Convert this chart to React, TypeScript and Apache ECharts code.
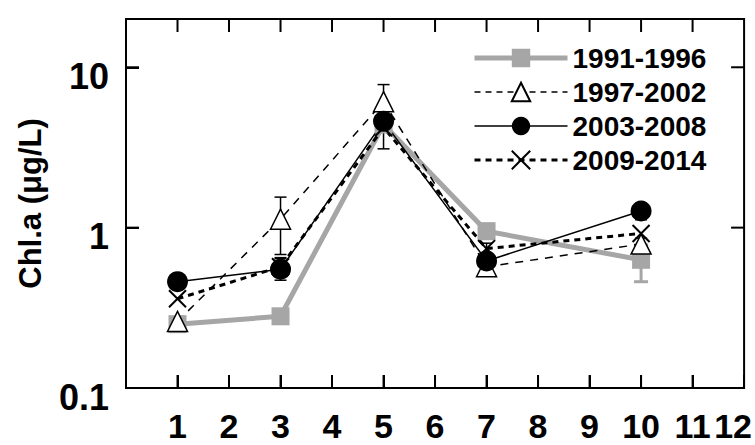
import React, { useEffect, useRef } from "react";
import * as echarts from "echarts";

const months = [1, 3, 5, 7, 10];
const xTickValues = [1, 2, 3, 4, 5, 6, 7, 8, 9, 10, 11, 12];
const yTickLabels = [0.1, 1, 10];
const seriesNames = ["1991-1996", "1997-2002", "2003-2008", "2009-2014"];

const s1991 = [0.25, 0.28, 4.4, 0.95, 0.63];
const s1997 = [0.26, 1.13, 6.1, 0.57, 0.79];
const s2003 = [0.46, 0.55, 4.6, 0.62, 1.27];
const s2009 = [0.36, 0.57, 4.2, 0.74, 0.92];

// error bars: [month, low, high]
const err1991 = [[7, 0.86, 1.05], [10, 0.46, 0.78]];
const err1997 = [[3, 0.68, 1.55], [5, 4.9, 7.8], [7, 0.52, 0.62], [10, 0.72, 0.86]];
const err2003 = [[1, 0.42, 0.5], [3, 0.47, 0.65], [5, 3.1, 5.4], [7, 0.56, 0.68], [10, 1.12, 1.42]];
const err2009 = [[3, 0.5, 0.64], [7, 0.68, 0.8]];

const X_MIN = 0;
const X_MAX = 12;
const Y_MIN = 0.1;
const Y_MAX = 20;

const FONT = "'Liberation Sans', Arial, sans-serif";
const GRAY = "#a6a6a6";
const TICK_LEN = 13;

function pairs(vals: number[]) {
  return months.map((m, i) => [m, vals[i]]);
}

function errSeries(data: number[][], color: string, width: number, capW: number) {
  return {
    type: "custom",
    xAxisIndex: 0,
    yAxisIndex: 0,
    silent: true,
    data,
    encode: { x: 0, y: [1, 2] },
    renderItem: (params: any, api: any) => {
      const x = api.value(0);
      const lo = api.value(1);
      const hi = api.value(2);
      const p1 = api.coord([x, hi]);
      const p2 = api.coord([x, lo]);
      const h = capW / 2;
      const st = { stroke: color, lineWidth: width };
      return {
        type: "group",
        children: [
          { type: "line", shape: { x1: p1[0], y1: p1[1], x2: p2[0], y2: p2[1] }, style: st },
          { type: "line", shape: { x1: p1[0] - h, y1: p1[1], x2: p1[0] + h, y2: p1[1] }, style: st },
          { type: "line", shape: { x1: p2[0] - h, y1: p2[1], x2: p2[0] + h, y2: p2[1] }, style: st },
        ],
      };
    },
  };
}

// inward tick marks on all four sides: [xValue, yValue, dx, dy]
const tickData: number[][] = [];
xTickValues
  .filter((v) => v > X_MIN && v < X_MAX)
  .forEach((v) => {
    tickData.push([v, Y_MIN, 0, -1]);
    tickData.push([v, Y_MAX, 0, 1]);
  });
yTickLabels
  .filter((v) => v > Y_MIN && v < Y_MAX)
  .forEach((v) => {
    tickData.push([X_MIN, v, 1, 0]);
    tickData.push([X_MAX, v, -1, 0]);
  });

const tickSeries = {
  type: "custom",
  silent: true,
  clip: false,
  z: 10,
  data: tickData,
  encode: { x: 0, y: 1 },
  renderItem: (params: any, api: any) => {
    const p = api.coord([api.value(0), api.value(1)]);
    const dx = api.value(2);
    const dy = api.value(3);
    return {
      type: "line",
      shape: { x1: p[0], y1: p[1], x2: p[0] + dx * TICK_LEN, y2: p[1] + dy * TICK_LEN },
      style: { stroke: "#000", lineWidth: 2 },
    };
  },
};

export default function App() {
  const ref = useRef<HTMLDivElement>(null);
  useEffect(() => {
    const chart = echarts.init(ref.current!, null, { renderer: "svg" });
    const labelFont = { fontSize: 34, fontWeight: "bold", fontFamily: FONT, color: "#000" };
    const option: any = {
      animation: false,
      backgroundColor: "#fff",
      grid: {
        left: 126,
        right: 9,
        top: 19,
        bottom: 57,
        containLabel: false,
        show: true,
        borderColor: "#000",
        borderWidth: 2,
      },
      legend: {
        orient: "vertical",
        left: 467,
        top: 39,
        data: [
          { name: seriesNames[0], lineStyle: { width: 5, color: GRAY } },
          { name: seriesNames[1], lineStyle: { width: 1.5, color: "#000", type: [6, 5] } },
          { name: seriesNames[2], lineStyle: { width: 1.5, color: "#000" } },
          { name: seriesNames[3], lineStyle: { width: 3, color: "#000", type: [6, 5] } },
        ],
        itemWidth: 93,
        itemHeight: 23,
        itemGap: 6,
        textStyle: { fontSize: 28, fontWeight: "bold", fontFamily: FONT, color: "#000" },
      },
      xAxis: {
        type: "value",
        min: X_MIN,
        max: X_MAX,
        interval: 1,
        position: "bottom",
        axisLine: { show: true, onZero: false, lineStyle: { color: "#000", width: 2 } },
        axisTick: { show: true, inside: true, length: TICK_LEN, lineStyle: { color: "#000", width: 2 } },
        splitLine: { show: false },
        axisLabel: {
          margin: 21,
          ...labelFont,
          showMaxLabel: true,
          hideOverlap: false,
          formatter: (v: number) => (v === 12 ? "{r|12}" : xTickValues.includes(v) ? String(v) : ""),
          rich: { r: { ...labelFont, padding: [0, 22, 0, 0] } },
        },
      },
      yAxis: {
        type: "log",
        logBase: 10,
        min: Y_MIN,
        max: Y_MAX,
        position: "left",
        name: "Chl.a (μg/L)",
        nameLocation: "middle",
        nameGap: 80,
        nameTextStyle: { fontSize: 31, fontWeight: "bold", fontFamily: FONT, color: "#000" },
        axisLine: { show: true, onZero: false, lineStyle: { color: "#000", width: 2 } },
        axisTick: { show: true, inside: true, length: TICK_LEN, lineStyle: { color: "#000", width: 2 } },
        minorTick: { show: false },
        splitLine: { show: false },
        axisLabel: {
          margin: 17,
          fontSize: 36,
          fontWeight: "bold",
          fontFamily: FONT,
          color: "#000",
          verticalAlign: "top",
          lineHeight: 18,
          formatter: (v: number) => (yTickLabels.some((t) => Math.abs(t - v) < 1e-9) ? String(v) : ""),
        },
      },
      series: [
        tickSeries,
        errSeries(err1991, GRAY, 3, 14),
        {
          name: seriesNames[0],
          type: "line",
          data: pairs(s1991),
          symbol: "rect",
          symbolSize: 18,
          itemStyle: { color: GRAY },
          lineStyle: { color: GRAY, width: 5 },
        },
        errSeries(err1997, "#000", 1.5, 12),
        {
          name: seriesNames[1],
          type: "line",
          data: pairs(s1997),
          symbol: "triangle",
          symbolSize: 20,
          itemStyle: { color: "#fff", borderColor: "#000", borderWidth: 1.5 },
          lineStyle: { color: "#000", width: 1.5, type: [8, 7] },
        },
        errSeries(err2009, "#000", 1.5, 12),
        {
          name: seriesNames[3],
          type: "line",
          data: pairs(s2009),
          symbol: "path://M0 0L10 10M10 0L0 10",
          symbolSize: 17,
          itemStyle: { color: "#000", borderColor: "#000", borderWidth: 2 },
          lineStyle: { color: "#000", width: 3, type: [6, 5] },
        },
        errSeries(err2003, "#000", 1.5, 12),
        {
          name: seriesNames[2],
          type: "line",
          data: pairs(s2003),
          symbol: "circle",
          symbolSize: 21,
          itemStyle: { color: "#000" },
          lineStyle: { color: "#000", width: 1.5 },
        },
      ],
    };
    chart.setOption(option);
    return () => chart.dispose();
  }, []);
  return <div ref={ref} style={{ position: "fixed", left: 0, top: 0, width: 755, height: 445 }} />;
}
